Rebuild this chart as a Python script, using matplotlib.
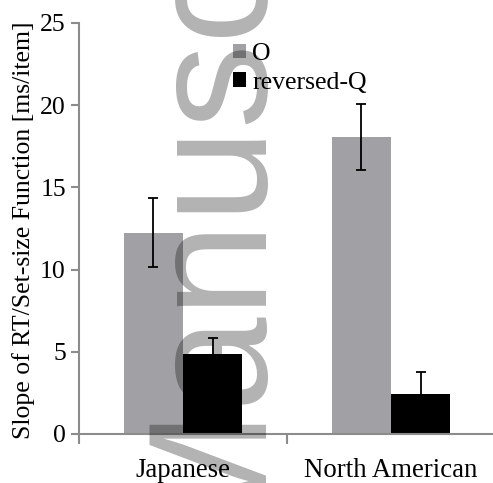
import matplotlib
matplotlib.use("Agg")
import matplotlib.pyplot as plt
import matplotlib.transforms as mtransforms
import numpy as np

categories = ["Japanese", "North American"]
series_names = ["O", "reversed-Q"]
o_values = [12.25, 18.05]
o_errors = [2.1, 2.0]
q_values = [4.85, 2.45]
q_errors = [1.0, 1.3]
y_ticks = [0, 5, 10, 15, 20, 25]
y_label = "Slope of RT/Set-size Function [ms/item]"
watermark = "Manuscript"

W, H = 493, 483
fig = plt.figure(figsize=(W / 100, H / 100), dpi=100)
ax = fig.add_axes([79 / W, 1 - 434 / H, 416 / W, (434 - 23) / H])

serif = ["Liberation Serif", "DejaVu Serif"]
fs = 18.5
grey = "#A1A1A5"
axis_col = "#8C8C8C"

x = np.arange(len(categories))
bw = 0.285
b1 = ax.bar(x - bw / 2, o_values, bw, color=grey, label=series_names[0], zorder=2)
b2 = ax.bar(x + bw / 2, q_values, bw, color="black", label=series_names[1], zorder=2)
ax.errorbar(x - bw / 2, o_values, yerr=o_errors, fmt="none", ecolor="black",
            elinewidth=1.3, capsize=3.3, capthick=1.3, zorder=3)
ax.errorbar(x + bw / 2, q_values, yerr=q_errors, fmt="none", ecolor="black",
            elinewidth=1.3, capsize=3.3, capthick=1.3, zorder=3)

ax.set_xlim(-0.5, 1.5)
ax.set_ylim(0, 25)
ax.set_yticks(y_ticks)
ax.set_yticklabels([str(t) for t in y_ticks], fontfamily=serif, fontsize=fs)
ax.set_xticks(x)
ax.set_xticklabels(categories, fontfamily=serif, fontsize=19.3)
shift = mtransforms.ScaledTranslation(3 / 100, 0, fig.dpi_scale_trans)
for lab in ax.get_xticklabels():
    lab.set_transform(lab.get_transform() + shift)
ax.set_xticks([-0.5, 0.5, 1.5], minor=True)
ax.tick_params(axis="x", which="major", length=0, pad=17)
ax.tick_params(axis="x", which="minor", length=7, width=1.5, color=axis_col, direction="out")
ax.tick_params(axis="y", length=6, width=1.5, color=axis_col, direction="out", pad=3.5)
for s in ["top", "right"]:
    ax.spines[s].set_visible(False)
for s in ["left", "bottom"]:
    ax.spines[s].set_color(axis_col)
    ax.spines[s].set_linewidth(1.5)

fig.text(24 / W, 1 - 230 / H, y_label, rotation=90, ha="center", va="center",
         fontfamily=serif, fontsize=fs)

leg = ax.legend(handles=[b1, b2], loc="upper left",
                bbox_to_anchor=(233 / W, 1 - 43 / H), bbox_transform=fig.transFigure,
                frameon=False, borderpad=0, borderaxespad=0,
                handlelength=0.5, handleheight=0.5, handletextpad=0.25,
                labelspacing=0.27, prop={"family": serif, "size": fs})

fig.text(253 / W, 1 - 538 / H, watermark, rotation=90, rotation_mode="anchor",
         ha="left", va="baseline", fontfamily="Liberation Sans", fontsize=122,
         color="black", alpha=0.3, zorder=10)

fig.savefig("out.png", dpi=100)
